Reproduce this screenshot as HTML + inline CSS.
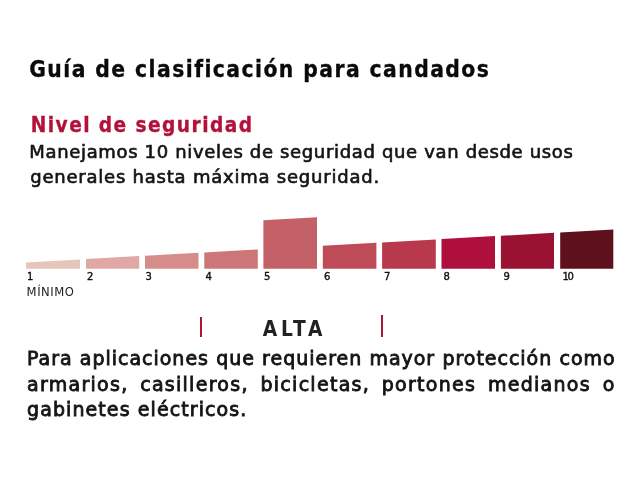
<!DOCTYPE html>
<html><head><meta charset="utf-8">
<style>
html,body{margin:0;padding:0;background:#fff;}
body{width:640px;height:480px;overflow:hidden;position:relative;font-family:"DejaVu Sans","Liberation Sans",sans-serif;color:#111;}
svg{position:absolute;left:0;top:0;will-change:transform;}
text{font-family:"DejaVu Sans","Liberation Sans",sans-serif;fill:#141414;}
.b{font-weight:bold;}
.c{font-family:"DejaVu Sans Condensed","DejaVu Sans",sans-serif;}
.d{stroke:#141414;stroke-width:0.4px;letter-spacing:-1.2px}
.p{stroke:#141414;stroke-width:0.65px;}
#desc{will-change:transform;position:absolute;left:27.4px;top:346px;width:588.6px;font-size:19px;line-height:25.5px;letter-spacing:0.92px;color:#141414;-webkit-text-stroke:0.85px #141414;}
#desc div{white-space:nowrap;text-align:justify;text-align-last:justify;}
#desc div.l{text-align:left;text-align-last:left;}
</style></head><body>
<svg width="640" height="480" viewBox="0 0 640 480">
<text class="b c" x="29.2" y="76.5" font-size="22.6" letter-spacing="1.45" style="fill:#0a0a0a;stroke:#0a0a0a;stroke-width:0.3px">Guía de clasificación para candados</text>
<text class="b c" x="30.8" y="131.6" font-size="20.7" letter-spacing="1.42" style="fill:#b2123a;stroke:#b2123a;stroke-width:0.3px">Nivel de seguridad</text>
<text class="p" x="29.3" y="158.2" font-size="18" letter-spacing="0.66">Manejamos 10 niveles de seguridad que van desde usos</text>
<text class="p" x="30.2" y="183" font-size="18" letter-spacing="0.78">generales hasta máxima seguridad.</text>
<polygon points="26,262.5 80,259.5 80,268.7 26,268.7" fill="#e6c5bb"/>
<polygon points="86,259.1 139.2,256.1 139.2,268.7 86,268.7" fill="#e0a8a4"/>
<polygon points="145,255.8 198.5,252.8 198.5,268.7 145,268.7" fill="#d68c8a"/>
<polygon points="204.3,252.5 257.8,249.5 257.8,268.7 204.3,268.7" fill="#cc7677"/>
<polygon points="263.4,220.3 317,217.2 317,268.7 263.4,268.7" fill="#c46067"/>
<polygon points="322.8,245.8 376.4,242.8 376.4,268.7 322.8,268.7" fill="#bf4a58"/>
<polygon points="382.1,242.4 435.8,239.4 435.8,268.7 382.1,268.7" fill="#b8394c"/>
<polygon points="441.5,239.1 495,236.1 495,268.7 441.5,268.7" fill="#af0f3c"/>
<polygon points="500.9,235.8 554,232.8 554,268.7 500.9,268.7" fill="#991232"/>
<polygon points="560.2,232.5 613.3,229.5 613.3,268.7 560.2,268.7" fill="#5e101d"/>
<g font-size="10" class="d">
<text x="26.9" y="279.9">1</text>
<text x="86.9" y="279.9">2</text>
<text x="145.4" y="279.9">3</text>
<text x="205.4" y="279.9">4</text>
<text x="264.1" y="279.9">5</text>
<text x="323.9" y="279.9">6</text>
<text x="383.9" y="279.9">7</text>
<text x="443.4" y="279.9">8</text>
<text x="503.4" y="279.9">9</text>
<text x="562.4" y="279.9">10</text>
</g>
<text x="26.6" y="295.9" font-size="11.6" letter-spacing="0.55" style="fill:#222">MÍNIMO</text>
<rect x="200" y="317" width="2" height="20" fill="#b2123a"/>
<rect x="381" y="315" width="2" height="22" fill="#a51a3a"/>
<text class="b" x="262.7" y="335.7" font-size="20.7" letter-spacing="3.8" style="fill:#222;font-family:'DejaVu Sans Condensed','DejaVu Sans',sans-serif">ALTA</text>
</svg>
<div id="desc"><div style="letter-spacing:0.98px">Para aplicaciones que requieren mayor protección como</div><div style="letter-spacing:1.28px">armarios, casilleros, bicicletas, portones medianos o</div><div class="l" style="letter-spacing:1.09px">gabinetes eléctricos.</div></div>
</body></html>
